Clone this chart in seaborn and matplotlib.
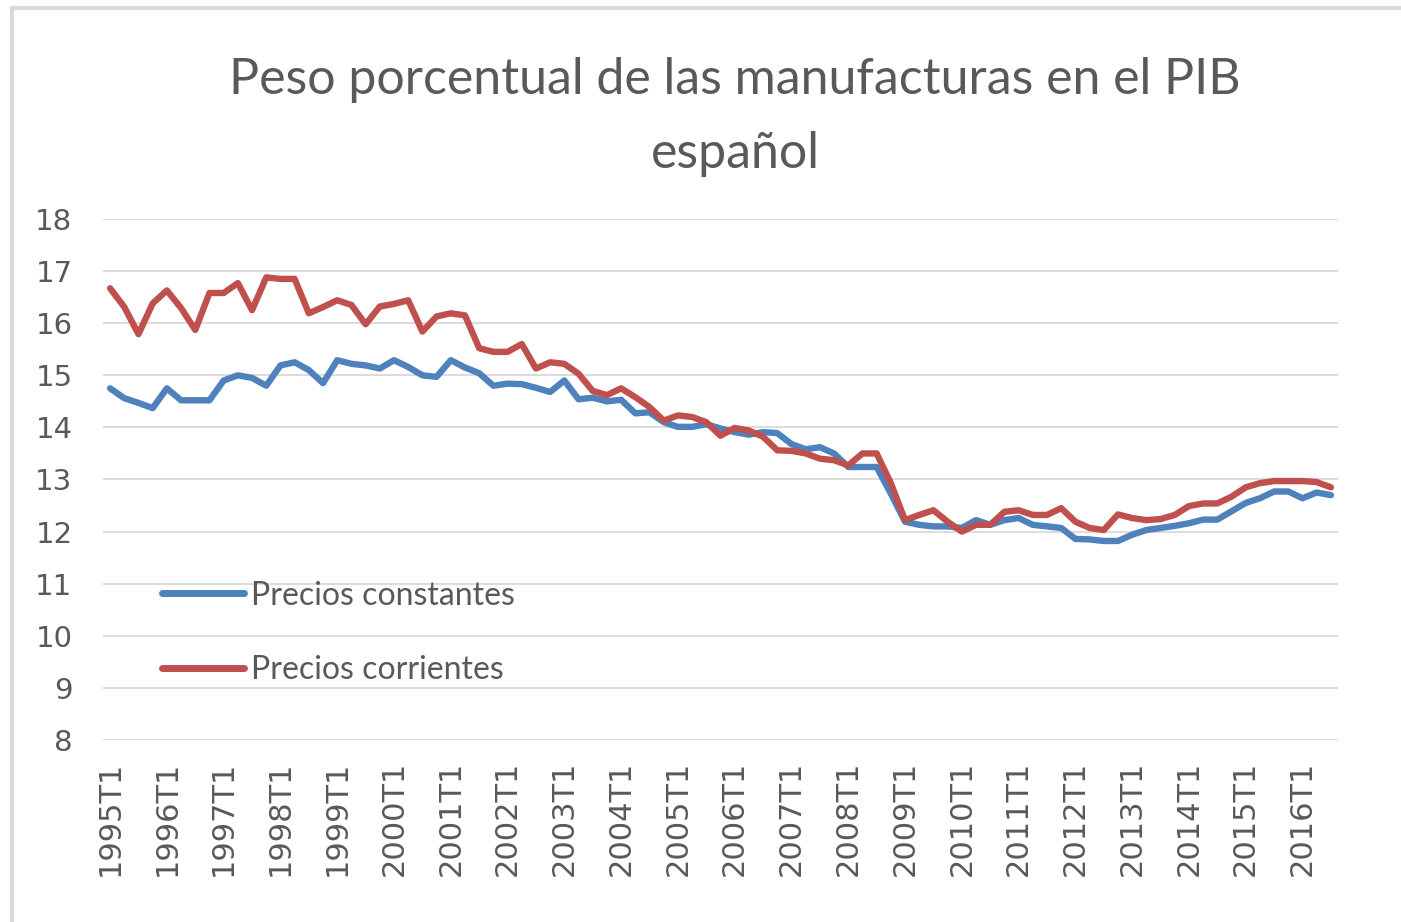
import pandas as pd
import matplotlib.pyplot as plt
import matplotlib.patches as mpatches
import seaborn as sns

# quarterly periods, 1995T1 .. 2016T3
years = list(range(1995, 2017))
quarters = ["T1", "T2", "T3", "T4"]
periods = [f"{y}{q}" for y in years for q in quarters][:87]

# manufacturing share of GDP (%)
constantes = [
    14.75, 14.56, 14.47, 14.37, 14.75, 14.52, 14.52, 14.52, 14.90, 15.00,
    14.95, 14.80, 15.19, 15.25, 15.10, 14.85, 15.29, 15.22, 15.19, 15.13,
    15.29, 15.16, 15.00, 14.97, 15.29, 15.15, 15.04, 14.80, 14.84, 14.83,
    14.76, 14.68, 14.90, 14.54, 14.57, 14.50, 14.53, 14.27, 14.29, 14.10,
    14.01, 14.01, 14.06, 13.98, 13.91, 13.86, 13.91, 13.89, 13.68, 13.58,
    13.62, 13.50, 13.24, 13.24, 13.24, 12.73, 12.19, 12.13, 12.10, 12.10,
    12.07, 12.22, 12.13, 12.22, 12.26, 12.13, 12.10, 12.07, 11.86, 11.85,
    11.82, 11.82, 11.94, 12.03, 12.07, 12.11, 12.16, 12.23, 12.23, 12.39,
    12.55, 12.64, 12.77, 12.77, 12.64, 12.75, 12.70,
]
corrientes = [
    16.67, 16.31, 15.79, 16.38, 16.63, 16.29, 15.87, 16.58, 16.58, 16.77,
    16.25, 16.88, 16.85, 16.85, 16.19, 16.31, 16.44, 16.35, 15.98, 16.32,
    16.37, 16.44, 15.84, 16.13, 16.19, 16.15, 15.52, 15.45, 15.45, 15.60,
    15.13, 15.25, 15.22, 15.03, 14.70, 14.62, 14.75, 14.58, 14.39, 14.13,
    14.23, 14.20, 14.10, 13.84, 13.99, 13.94, 13.82, 13.56, 13.55, 13.50,
    13.40, 13.37, 13.27, 13.50, 13.50, 12.93, 12.22, 12.32, 12.41, 12.19,
    12.00, 12.13, 12.13, 12.38, 12.41, 12.32, 12.32, 12.45, 12.19, 12.07,
    12.03, 12.33, 12.26, 12.22, 12.24, 12.32, 12.49, 12.54, 12.54, 12.67,
    12.85, 12.93, 12.97, 12.97, 12.97, 12.95, 12.85,
]
series_names = ["Precios constantes", "Precios corrientes"]
colors = ["#4F81BD", "#C0504D"]

df = pd.DataFrame({
    "periodo": periods * 2,
    "peso": constantes + corrientes,
    "serie": [series_names[0]] * len(periods) + [series_names[1]] * len(periods),
})

sns.set_style("white")
text_col = "#595959"

fig = plt.figure(figsize=(14.01, 9.22), dpi=100)
# light chart border like the excel chart area
fig.patches.append(mpatches.Rectangle((12 / 1401, -0.1), 1.2, 1 - 8 / 922 + 0.1,
                                      transform=fig.transFigure, fill=False,
                                      edgecolor="#d9d9d9", lw=3, zorder=0))

ax = fig.add_axes([103 / 1401, 1 - 740 / 922, 1235 / 1401, 521 / 922])
sns.lineplot(data=df, x="periodo", y="peso", hue="serie", hue_order=series_names,
             palette=colors, linewidth=4.6, ax=ax)

ax.set_xlim(-0.5, len(periods) - 0.5)
ax.set_ylim(8, 18)
ax.set_yticks(range(8, 19))
ax.set_xticks(range(0, len(periods), 4))
ax.set_xticklabels(periods[::4], rotation=90)
ax.tick_params(axis="x", length=0, pad=15, labelsize=22, labelcolor=text_col)
ax.tick_params(axis="y", length=0, pad=22, labelsize=21, labelcolor=text_col)
ax.set_xlabel("")
ax.set_ylabel("")
ax.yaxis.grid(True, color="#d9d9d9", lw=1.3)
ax.xaxis.grid(False)
ax.set_axisbelow(True)
for s in ax.spines.values():
    s.set_visible(False)

handles, labels = ax.get_legend_handles_labels()
leg = ax.legend(handles, labels, loc="upper left", bbox_to_anchor=(0.048, 0.306),
                frameon=False, handlelength=2.55, handletextpad=0.22,
                labelspacing=1.4, borderaxespad=0, borderpad=0,
                prop={"family": "Lato", "size": 23})
for t in leg.get_texts():
    t.set_color(text_col)
for h in leg.get_lines():
    h.set_linewidth(5)

fig.text(735 / 1401, 1 - 117 / 922, "Peso porcentual de las manufacturas en el PIB\nespañol",
         ha="center", va="center", multialignment="center", linespacing=1.75,
         fontsize=36, color=text_col, family="Lato")

plt.savefig("out.png", dpi=100)
